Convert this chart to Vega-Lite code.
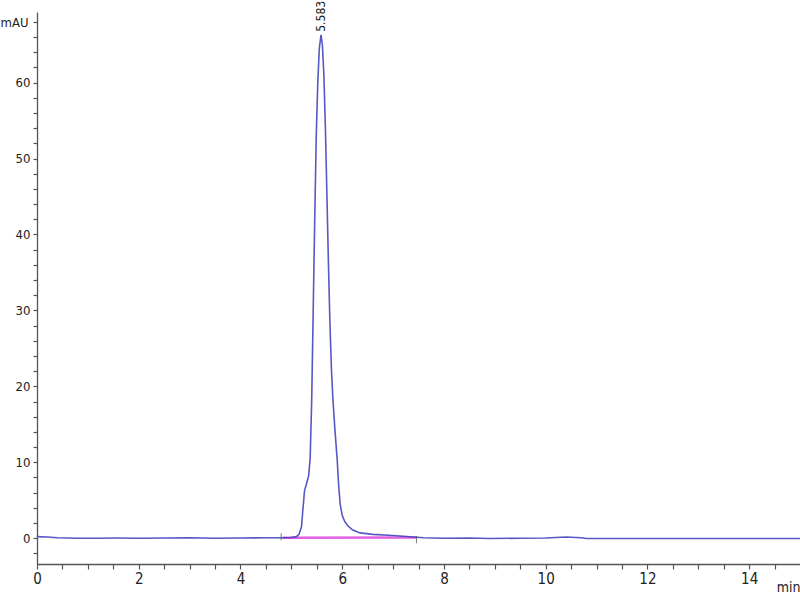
{
  "$schema": "https://vega.github.io/schema/vega-lite/v6.json",
  "width": 763,
  "height": 552,
  "autosize": {"type": "none"},
  "padding": {"left": 37, "top": 12, "right": 0, "bottom": 36},
  "background": "white",
  "config": {"view": {"stroke": null}, "font": "'DejaVu Sans Condensed', 'Liberation Sans', sans-serif"},
  "datasets": {
    "trace": [
      {"t": 0.0, "v": 0.2}, {"t": 0.2, "v": 0.15}, {"t": 0.4, "v": 0.05}, {"t": 0.8, "v": 0.0}, {"t": 1.2, "v": 0.0},
      {"t": 1.6, "v": 0.02}, {"t": 2.0, "v": 0.0}, {"t": 2.5, "v": 0.02}, {"t": 3.0, "v": 0.05}, {"t": 3.5, "v": 0.0},
      {"t": 4.0, "v": 0.02}, {"t": 4.5, "v": 0.05}, {"t": 4.8, "v": 0.05}, {"t": 5.0, "v": 0.1}, {"t": 5.1, "v": 0.2},
      {"t": 5.15, "v": 0.5}, {"t": 5.2, "v": 1.5}, {"t": 5.23, "v": 4.0}, {"t": 5.26, "v": 6.3}, {"t": 5.3, "v": 7.2},
      {"t": 5.34, "v": 8.2}, {"t": 5.37, "v": 10.5}, {"t": 5.4, "v": 18}, {"t": 5.43, "v": 30}, {"t": 5.46, "v": 42},
      {"t": 5.49, "v": 53}, {"t": 5.52, "v": 60}, {"t": 5.55, "v": 64.5}, {"t": 5.583, "v": 66.3}, {"t": 5.61, "v": 65},
      {"t": 5.64, "v": 61}, {"t": 5.67, "v": 54}, {"t": 5.7, "v": 45}, {"t": 5.73, "v": 36}, {"t": 5.76, "v": 28},
      {"t": 5.79, "v": 22}, {"t": 5.82, "v": 18}, {"t": 5.86, "v": 14}, {"t": 5.9, "v": 10.5}, {"t": 5.93, "v": 7},
      {"t": 5.96, "v": 4.5}, {"t": 6.0, "v": 3.0}, {"t": 6.05, "v": 2.2}, {"t": 6.1, "v": 1.7}, {"t": 6.2, "v": 1.1},
      {"t": 6.35, "v": 0.7}, {"t": 6.6, "v": 0.5}, {"t": 7.0, "v": 0.35}, {"t": 7.4, "v": 0.15}, {"t": 7.6, "v": 0.05},
      {"t": 8.0, "v": 0.0}, {"t": 8.5, "v": 0.02}, {"t": 8.9, "v": -0.05}, {"t": 9.5, "v": 0.0}, {"t": 10.0, "v": 0.02},
      {"t": 10.4, "v": 0.15}, {"t": 10.7, "v": 0.05}, {"t": 10.8, "v": -0.05}, {"t": 11.5, "v": -0.05}, {"t": 12.5, "v": -0.05},
      {"t": 13.5, "v": -0.05}, {"t": 15.0, "v": -0.05}
    ],
    "base": [{"t": 4.83, "v": 0.05}, {"t": 7.46, "v": 0.1}],
    "marks": [{"t": 4.8, "v": 0.2}, {"t": 7.46, "v": -0.2}],
    "label": [{"t": 5.583, "v": 66.3, "text": "5.583"}]
  },
  "encoding": {
    "x": {
      "field": "t", "type": "quantitative",
      "scale": {"domain": [0, 15], "nice": false, "zero": false},
      "axis": {
        "title": "min", "titleFontWeight": "normal", "titleFontSize": 14, "titleColor": "#222",
        "titleX": 763, "titleY": 27, "titleAlign": "right", "titleBaseline": "alphabetic", "titleAnchor": null,
        "values": [0,0.5,1,1.5,2,2.5,3,3.5,4,4.5,5,5.5,6,6.5,7,7.5,8,8.5,9,9.5,10,10.5,11,11.5,12,12.5,13,13.5,14,14.5],
        "labelExpr": "datum.value % 2 === 0 ? format(datum.value, 'd') : ''",
        "ticks": true, "tickSize": 5, "tickWidth": 1.2,
        "grid": false, "domainColor": "#555", "tickColor": "#555", "domainWidth": 1.3,
        "labelFontSize": 15, "labelColor": "#222", "labelPadding": 2, "labelFlush": false
      }
    },
    "y": {
      "field": "v", "type": "quantitative",
      "scale": {"domain": [-3.4, 69.3], "nice": false, "zero": false},
      "axis": {
        "title": "mAU", "titleAngle": 0, "titleFontWeight": "normal", "titleFontSize": 13, "titleColor": "#222",
        "titleX": -9, "titleY": 10, "titleAlign": "right", "titleBaseline": "middle", "titleAnchor": null,
        "values": [-2,0,2,4,6,8,10,12,14,16,18,20,22,24,26,28,30,32,34,36,38,40,42,44,46,48,50,52,54,56,58,60,62,64,66,68],
        "labelExpr": "datum.value % 10 === 0 ? format(datum.value, 'd') : ''",
        "ticks": true, "tickSize": 4, "tickWidth": 1.2,
        "grid": false, "domainColor": "#555", "tickColor": "#555", "domainWidth": 1.3,
        "labelFontSize": 13, "labelColor": "#222", "labelPadding": 3
      }
    }
  },
  "layer": [
    {"data": {"name": "base"}, "mark": {"type": "line", "color": "#e060e0", "strokeWidth": 2.5}},
    {"data": {"name": "trace"}, "mark": {"type": "line", "color": "#4545c0", "strokeWidth": 1.6, "opacity": 0.9}},
    {"data": {"name": "marks"}, "mark": {"type": "tick", "orient": "vertical", "size": 7, "color": "#444", "thickness": 1}},
    {"data": {"name": "label"}, "mark": {"type": "text", "angle": 270, "align": "left", "baseline": "middle", "dx": 3, "fontSize": 12, "color": "#222"}, "encoding": {"text": {"field": "text"}}}
  ]
}
